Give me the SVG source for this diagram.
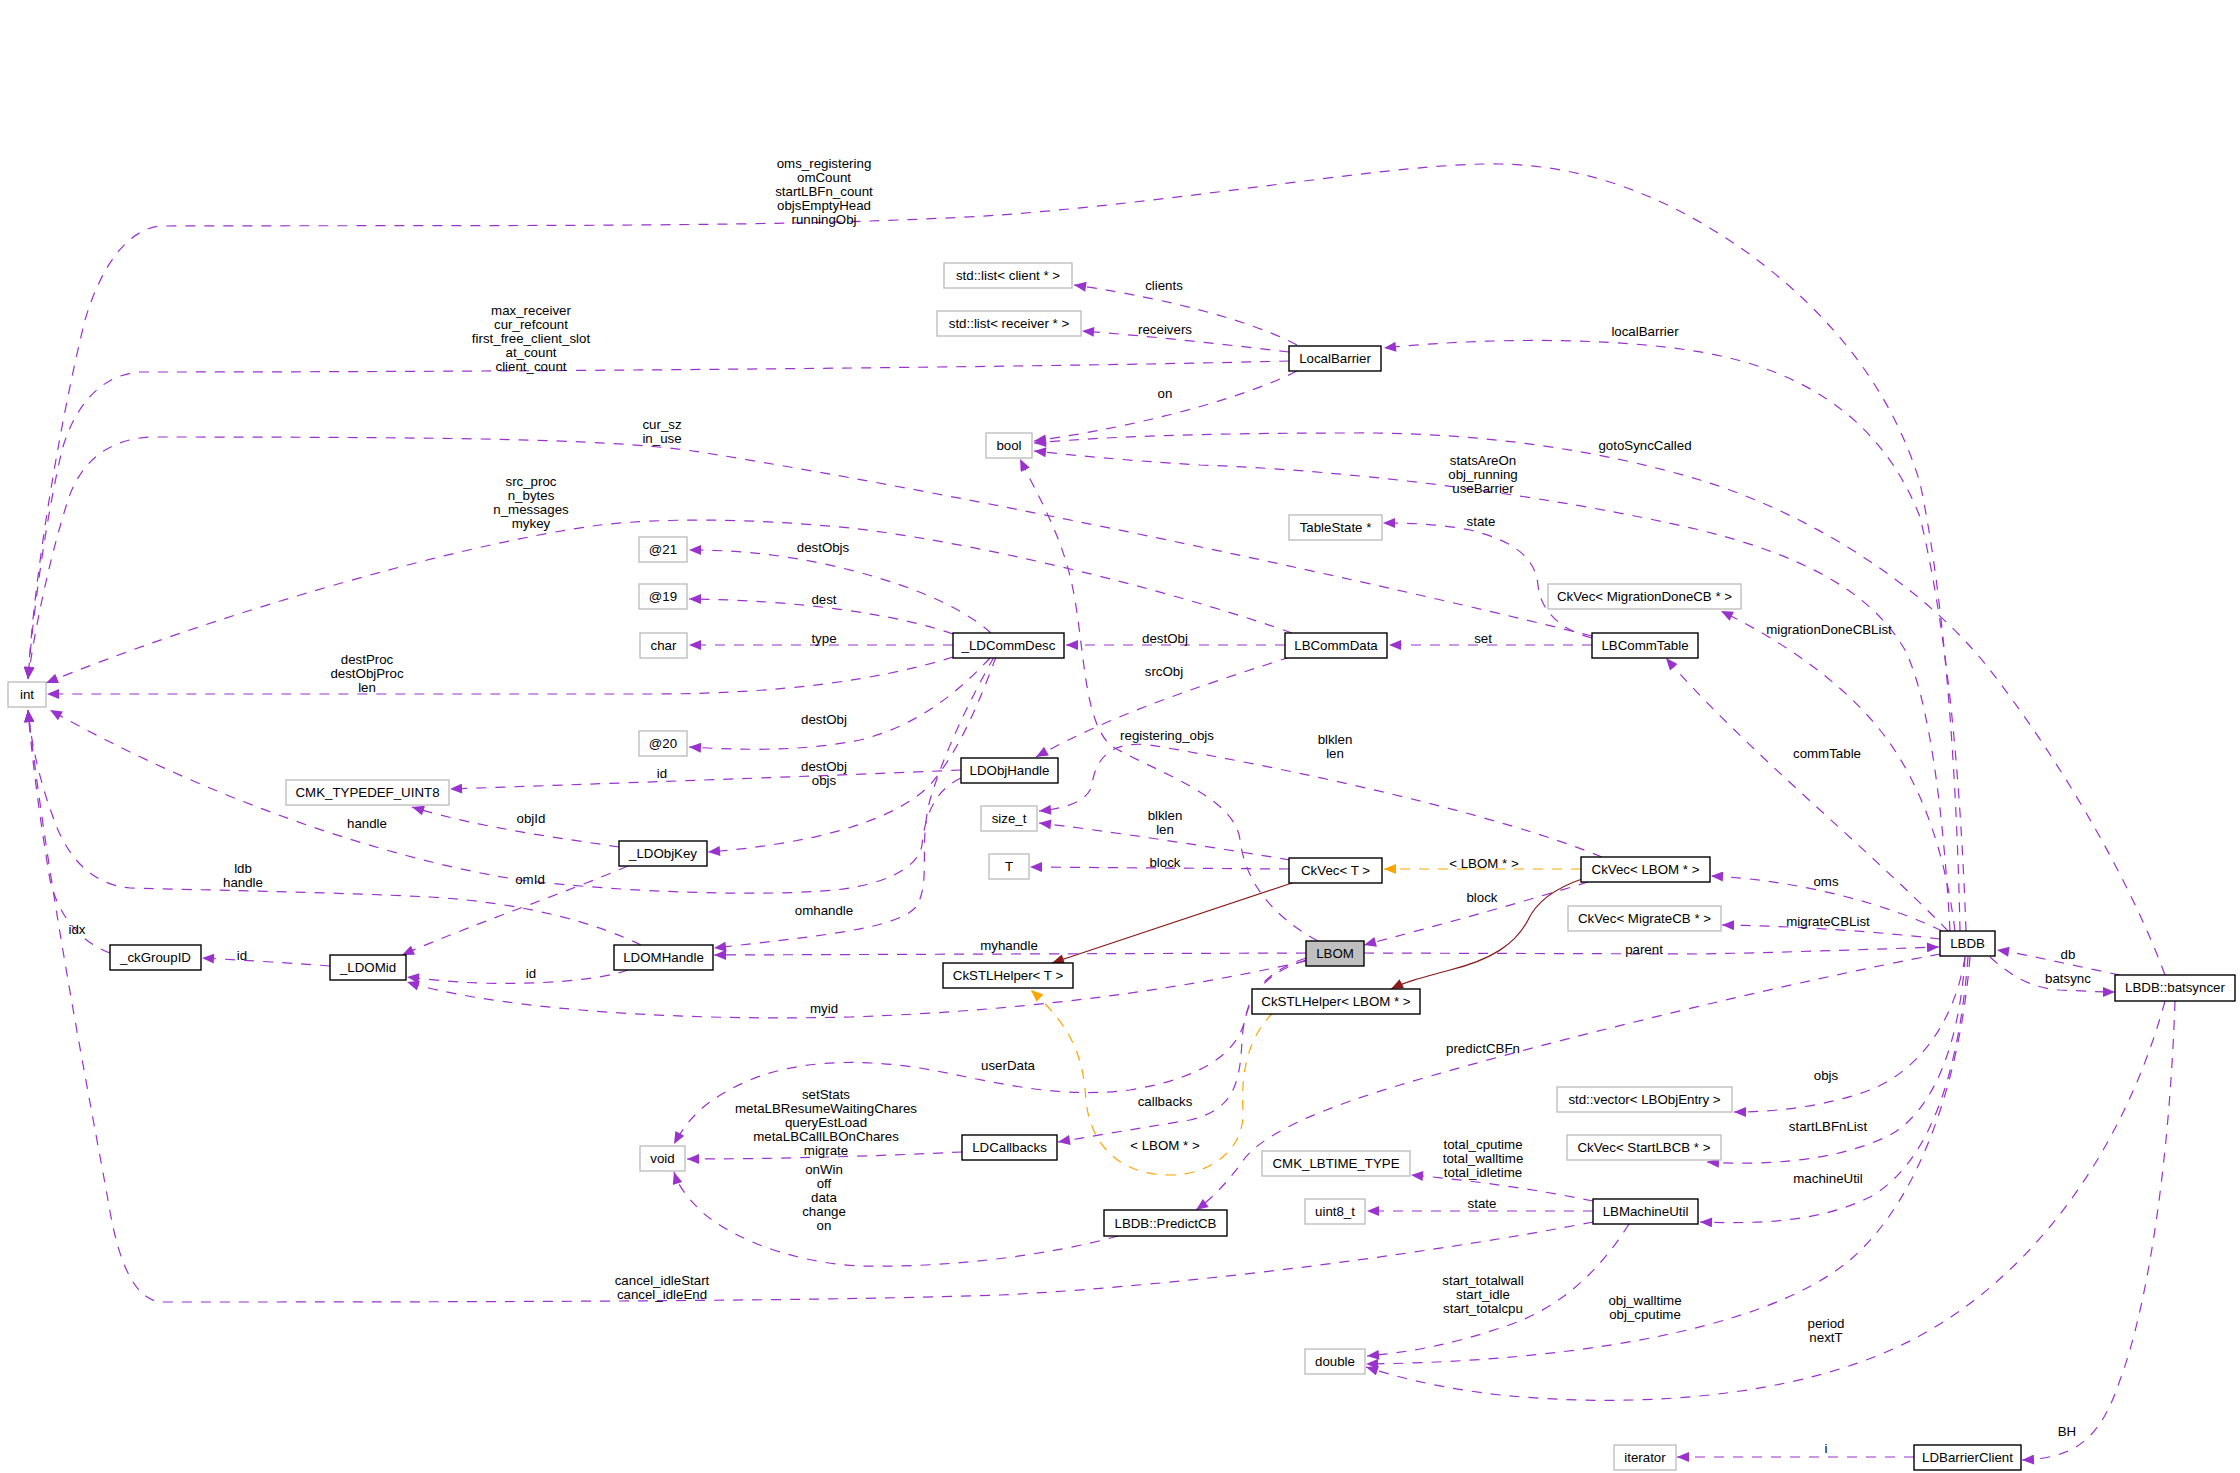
<svg xmlns="http://www.w3.org/2000/svg" width="2240" height="1473" viewBox="0 0 2240 1473">
<style>
text{font-family:"Liberation Sans",Arial,Helvetica,sans-serif;font-size:13.3px;text-anchor:middle;fill:#000}
.c rect{fill:#fff;stroke:#000;stroke-width:1.4}
.x rect{fill:#fff;stroke:#bfbfbf;stroke-width:1.4}
.g rect{fill:#bfbfbf;stroke:#000;stroke-width:1.4}
#edges path{fill:none;stroke-width:1.2}
.e{stroke:#9a32cd;stroke-dasharray:10,9;marker-end:url(#ap)}
.o{stroke:#ffa500;stroke-dasharray:10,9;marker-end:url(#ao)}
.r{stroke:#8b1a1a;marker-end:url(#ar)}
</style>
<defs>
<marker id="ap" markerUnits="userSpaceOnUse" markerWidth="13" markerHeight="10" viewBox="0 0 12 10" refX="12" refY="5" orient="auto"><path d="M0,0L12,5L0,10z" fill="#9a32cd"/></marker>
<marker id="ao" markerUnits="userSpaceOnUse" markerWidth="13" markerHeight="10" viewBox="0 0 12 10" refX="12" refY="5" orient="auto"><path d="M0,0L12,5L0,10z" fill="#ffa500"/></marker>
<marker id="ar" markerUnits="userSpaceOnUse" markerWidth="13" markerHeight="10" viewBox="0 0 12 10" refX="12" refY="5" orient="auto"><path d="M0,0L12,5L0,10z" fill="#8b1a1a"/></marker>
</defs>
<rect width="2240" height="1473" fill="#fff"/>
<g id="edges">
<path class="e" d="M1960,931 C1957,780 1945,600 1920,483 C1895,400 1840,320 1748,253 C1680,205 1600,166 1500,164 C1400,162 1200,200 1000,215 C800,228 500,225 160,226 C125,230 100,270 85,320 C65,400 35,560 28,679"/>
<path class="e" d="M1289,361 C1100,366 600,372 140,372 C95,375 72,415 62,450 C48,510 34,600 28,679"/>
<path class="e" d="M1592,636 C1400,588 1000,500 700,452 C620,440 500,437 150,437 C100,440 78,470 68,500 C52,550 36,620 28,679"/>
<path class="e" d="M1292,633 C1200,600 1000,545 850,528 C750,518 660,518 600,525 C450,545 200,620 46,683"/>
<path class="e" d="M953,657 C880,680 780,694 650,694 L47,694"/>
<path class="e" d="M961,778 C935,790 925,815 922,845 C918,870 880,885 835,890 C760,897 620,892 520,880 C380,858 200,795 50,710"/>
<path class="e" d="M641,945 C600,925 530,903 430,897 C330,892 200,890 130,888 C95,885 72,862 58,830 C42,790 32,750 28,710"/>
<path class="e" d="M110,953 C80,942 58,915 50,880 C40,820 32,760 28,710"/>
<path class="e" d="M1593,1222 C1450,1250 1200,1285 1000,1295 C800,1302 400,1302 160,1302 C130,1298 116,1250 108,1200 C90,1100 50,900 28,710"/>
<path class="e" d="M994,657 C970,700 945,750 930,800 C918,845 932,885 915,908 C895,928 830,935 714,948"/>
<path class="e" d="M1306,953 L714,955"/>
<path class="e" d="M1306,961 C1200,985 1050,1010 850,1017 C650,1022 480,1005 407,982"/>
<path class="e" d="M628,970 C600,980 540,985 478,983 C450,982 425,979 407,977"/>
<path class="e" d="M330,966 C290,963 240,960 202,958"/>
<path class="e" d="M628,866 C560,895 470,925 402,955"/>
<path class="e" d="M619,847 C560,838 480,828 412,807"/>
<path class="e" d="M961,770 C850,775 650,782 450,789"/>
<path class="e" d="M996,657 C980,700 960,750 930,785 C890,825 800,845 708,852"/>
<path class="e" d="M990,658 C960,690 920,725 860,740 C800,752 740,750 689,747"/>
<path class="e" d="M953,645 L689,645"/>
<path class="e" d="M953,634 C900,615 800,600 689,599"/>
<path class="e" d="M991,633 C960,605 900,580 820,563 C770,553 730,550 689,550"/>
<path class="e" d="M1285,645 L1066,645"/>
<path class="e" d="M1592,645 L1389,645"/>
<path class="e" d="M1592,638 C1560,630 1540,610 1538,585 C1535,555 1510,540 1470,530 C1440,524 1410,523 1383,523"/>
<path class="e" d="M1290,657 C1220,680 1120,710 1036,757"/>
<path class="e" d="M1297,345 C1260,325 1180,300 1074,285"/>
<path class="e" d="M1289,352 C1230,345 1150,336 1082,331"/>
<path class="e" d="M1297,371 C1250,395 1150,425 1034,441"/>
<path class="e" d="M1966,931 C1962,820 1952,650 1920,517 C1890,440 1830,380 1721,356 C1640,338 1500,336 1384,348"/>
<path class="e" d="M2165,975 C2130,880 2060,760 1990,670 C1920,580 1800,510 1700,480 C1600,450 1480,432 1350,433 C1200,433 1100,437 1034,443"/>
<path class="e" d="M1950,931 C1944,820 1930,700 1905,650 C1870,590 1800,555 1700,530 C1550,495 1350,470 1200,465 C1120,460 1070,455 1034,451"/>
<path class="e" d="M1948,931 C1870,850 1740,745 1666,658"/>
<path class="e" d="M1955,931 C1945,850 1920,780 1880,730 C1840,680 1780,640 1721,611"/>
<path class="e" d="M1942,931 C1890,905 1800,880 1711,876"/>
<path class="e" d="M1940,939 C1880,932 1800,926 1722,925"/>
<path class="e" d="M1364,953 L1700,954 C1800,952 1880,949 1939,947"/>
<path class="e" d="M2120,975 C2070,965 2030,955 1997,950"/>
<path class="e" d="M1990,957 C2010,975 2030,988 2060,990 C2085,991 2100,992 2115,992"/>
<path class="e" d="M1940,954 C1800,980 1550,1040 1400,1085 C1300,1115 1255,1140 1240,1165 C1225,1185 1210,1200 1196,1210"/>
<path class="e" d="M1965,957 C1955,1020 1920,1070 1870,1090 C1830,1105 1780,1112 1734,1112"/>
<path class="e" d="M1965,957 C1960,1040 1935,1110 1890,1135 C1840,1160 1770,1166 1707,1162"/>
<path class="e" d="M1968,957 C1960,1060 1935,1160 1870,1197 C1820,1222 1760,1224 1700,1222"/>
<path class="e" d="M1970,957 C1960,1080 1920,1200 1850,1260 C1760,1335 1550,1362 1366,1364"/>
<path class="e" d="M2165,1001 C2130,1130 2050,1260 1930,1330 C1820,1395 1650,1410 1500,1395 C1440,1388 1400,1378 1366,1367"/>
<path class="e" d="M2175,1001 C2170,1150 2150,1300 2120,1380 C2100,1440 2075,1458 2022,1460"/>
<path class="e" d="M1914,1457 L1677,1457"/>
<path class="e" d="M1593,1201 C1540,1190 1470,1180 1411,1175"/>
<path class="e" d="M1593,1211 L1367,1211"/>
<path class="e" d="M1629,1224 C1600,1270 1560,1310 1500,1328 C1450,1345 1410,1352 1367,1356"/>
<path class="e" d="M1318,941 C1270,915 1245,880 1240,840 C1235,795 1150,770 1110,745 C1085,720 1085,660 1075,600 C1065,540 1040,500 1020,459"/>
<path class="e" d="M1602,857 C1500,815 1300,770 1150,745 C1110,740 1095,760 1092,785 C1088,800 1070,808 1039,811"/>
<path class="e" d="M1290,860 C1200,845 1100,830 1039,823"/>
<path class="e" d="M1289,869 L1030,867"/>
<path class="e" d="M1588,882 C1530,900 1440,925 1364,945"/>
<path class="e" d="M1306,958 C1270,970 1250,990 1245,1020 C1235,1060 1190,1080 1130,1090 C1050,1100 980,1078 920,1068 C850,1057 790,1063 750,1080 C710,1097 690,1115 674,1144"/>
<path class="e" d="M1306,960 C1260,975 1245,1000 1242,1040 C1240,1090 1230,1110 1190,1120 C1140,1128 1100,1135 1058,1142"/>
<path class="e" d="M962,1152 C880,1156 780,1159 687,1159"/>
<path class="e" d="M1118,1236 C1050,1255 950,1268 860,1266 C780,1262 720,1230 700,1210 C685,1195 678,1185 674,1172"/>
<path class="o" d="M1581,869 L1384,869"/>
<path class="o" d="M1273,1013 C1255,1030 1240,1060 1243,1110 C1245,1150 1210,1175 1170,1175 C1120,1175 1090,1145 1086,1100 C1083,1060 1075,1030 1031,990"/>
<path class="r" d="M1295,882 L1052,963"/>
<path class="r" d="M1582,879 C1550,890 1535,905 1528,920 C1515,945 1490,960 1450,970 C1420,978 1405,982 1391,989"/>
</g>
<g id="edge-labels">
<text x="824" y="168">oms_registering<tspan x="824" dy="14">omCount</tspan><tspan x="824" dy="14">startLBFn_count</tspan><tspan x="824" dy="14">objsEmptyHead</tspan><tspan x="824" dy="14">runningObj</tspan></text>
<text x="531" y="315">max_receiver<tspan x="531" dy="14">cur_refcount</tspan><tspan x="531" dy="14">first_free_client_slot</tspan><tspan x="531" dy="14">at_count</tspan><tspan x="531" dy="14">client_count</tspan></text>
<text x="662" y="429">cur_sz<tspan x="662" dy="14">in_use</tspan></text>
<text x="531" y="486">src_proc<tspan x="531" dy="14">n_bytes</tspan><tspan x="531" dy="14">n_messages</tspan><tspan x="531" dy="14">mykey</tspan></text>
<text x="1164" y="290">clients</text>
<text x="1165" y="334">receivers</text>
<text x="1165" y="398">on</text>
<text x="1645" y="336">localBarrier</text>
<text x="1645" y="450">gotoSyncCalled</text>
<text x="1483" y="465">statsAreOn<tspan x="1483" dy="14">obj_running</tspan><tspan x="1483" dy="14">useBarrier</tspan></text>
<text x="1481" y="526">state</text>
<text x="1829" y="634">migrationDoneCBList</text>
<text x="1483" y="643">set</text>
<text x="1827" y="758">commTable</text>
<text x="823" y="552">destObjs</text>
<text x="824" y="604">dest</text>
<text x="824" y="643">type</text>
<text x="1165" y="643">destObj</text>
<text x="1164" y="676">srcObj</text>
<text x="367" y="664">destProc<tspan x="367" dy="14">destObjProc</tspan><tspan x="367" dy="14">len</tspan></text>
<text x="824" y="724">destObj</text>
<text x="824" y="771">destObj<tspan x="824" dy="14">objs</tspan></text>
<text x="662" y="778">id</text>
<text x="531" y="823">objId</text>
<text x="367" y="828">handle</text>
<text x="243" y="873">ldb<tspan x="243" dy="14">handle</tspan></text>
<text x="530" y="884">omId</text>
<text x="77" y="934">idx</text>
<text x="242" y="960">id</text>
<text x="531" y="978">id</text>
<text x="1167" y="740">registering_objs</text>
<text x="1335" y="744">blklen<tspan x="1335" dy="14">len</tspan></text>
<text x="1165" y="820">blklen<tspan x="1165" dy="14">len</tspan></text>
<text x="1165" y="867">block</text>
<text x="1484" y="868">&lt; LBOM * &gt;</text>
<text x="1482" y="902">block</text>
<text x="1826" y="886">oms</text>
<text x="1828" y="926">migrateCBList</text>
<text x="1644" y="954">parent</text>
<text x="2068" y="959">db</text>
<text x="2068" y="983">batsync</text>
<text x="1009" y="950">myhandle</text>
<text x="824" y="1013">myid</text>
<text x="824" y="915">omhandle</text>
<text x="1483" y="1053">predictCBFn</text>
<text x="1826" y="1080">objs</text>
<text x="1828" y="1131">startLBFnList</text>
<text x="1828" y="1183">machineUtil</text>
<text x="1008" y="1070">userData</text>
<text x="1165" y="1106">callbacks</text>
<text x="1165" y="1150">&lt; LBOM * &gt;</text>
<text x="826" y="1099">setStats<tspan x="826" dy="14">metaLBResumeWaitingChares</tspan><tspan x="826" dy="14">queryEstLoad</tspan><tspan x="826" dy="14">metaLBCallLBOnChares</tspan><tspan x="826" dy="14">migrate</tspan></text>
<text x="824" y="1174">onWin<tspan x="824" dy="14">off</tspan><tspan x="824" dy="14">data</tspan><tspan x="824" dy="14">change</tspan><tspan x="824" dy="14">on</tspan></text>
<text x="662" y="1285">cancel_idleStart<tspan x="662" dy="14">cancel_idleEnd</tspan></text>
<text x="1483" y="1149">total_cputime<tspan x="1483" dy="14">total_walltime</tspan><tspan x="1483" dy="14">total_idletime</tspan></text>
<text x="1482" y="1208">state</text>
<text x="1483" y="1285">start_totalwall<tspan x="1483" dy="14">start_idle</tspan><tspan x="1483" dy="14">start_totalcpu</tspan></text>
<text x="1645" y="1305">obj_walltime<tspan x="1645" dy="14">obj_cputime</tspan></text>
<text x="1826" y="1328">period<tspan x="1826" dy="14">nextT</tspan></text>
<text x="2067" y="1436">BH</text>
<text x="1826" y="1453">i</text>
</g>
<g id="n_int" class="x"><rect x="8" y="682" width="38" height="25"/><text x="27" y="699">int</text></g>
<g id="n_at21" class="x"><rect x="639" y="537" width="48" height="25"/><text x="663" y="554">@21</text></g>
<g id="n_at19" class="x"><rect x="639" y="584" width="48" height="25"/><text x="663" y="601">@19</text></g>
<g id="n_char" class="x"><rect x="640" y="633" width="47" height="25"/><text x="663.5" y="650">char</text></g>
<g id="n_at20" class="x"><rect x="639" y="731" width="48" height="25"/><text x="663" y="748">@20</text></g>
<g id="n_uint8def" class="x"><rect x="286" y="780" width="163" height="25"/><text x="367.5" y="797">CMK_TYPEDEF_UINT8</text></g>
<g id="n_LDObjKey" class="c"><rect x="619" y="841" width="88" height="25"/><text x="663" y="858">_LDObjKey</text></g>
<g id="n_ckGroupID" class="c"><rect x="110" y="945" width="91" height="25"/><text x="155.5" y="962">_ckGroupID</text></g>
<g id="n_LDOMid" class="c"><rect x="330" y="955" width="76" height="25"/><text x="368" y="972">_LDOMid</text></g>
<g id="n_LDOMHandle" class="c"><rect x="614" y="945" width="99" height="25"/><text x="663.5" y="962">LDOMHandle</text></g>
<g id="n_listclient" class="x"><rect x="944" y="263" width="128" height="25"/><text x="1008" y="280">std::list&lt; client * &gt;</text></g>
<g id="n_listreceiver" class="x"><rect x="937" y="311" width="144" height="25"/><text x="1009" y="328">std::list&lt; receiver * &gt;</text></g>
<g id="n_LocalBarrier" class="c"><rect x="1289" y="346" width="92" height="25"/><text x="1335" y="363">LocalBarrier</text></g>
<g id="n_bool" class="x"><rect x="986" y="433" width="46" height="25"/><text x="1009" y="450">bool</text></g>
<g id="n_TableState" class="x"><rect x="1289" y="515" width="93" height="25"/><text x="1335.5" y="532">TableState *</text></g>
<g id="n_CkVecMigDone" class="x"><rect x="1548" y="584" width="193" height="25"/><text x="1644.5" y="601">CkVec&lt; MigrationDoneCB * &gt;</text></g>
<g id="n_LBCommTable" class="c"><rect x="1592" y="633" width="106" height="25"/><text x="1645" y="650">LBCommTable</text></g>
<g id="n_LDCommDesc" class="c"><rect x="953" y="633" width="111" height="25"/><text x="1008.5" y="650">_LDCommDesc</text></g>
<g id="n_LBCommData" class="c"><rect x="1285" y="633" width="102" height="25"/><text x="1336" y="650">LBCommData</text></g>
<g id="n_LDObjHandle" class="c"><rect x="961" y="758" width="97" height="25"/><text x="1009.5" y="775">LDObjHandle</text></g>
<g id="n_size_t" class="x"><rect x="981" y="806" width="56" height="25"/><text x="1009" y="823">size_t</text></g>
<g id="n_T" class="x"><rect x="989" y="854" width="40" height="25"/><text x="1009" y="871">T</text></g>
<g id="n_CkVecT" class="c"><rect x="1289" y="858" width="93" height="25"/><text x="1335.5" y="875">CkVec&lt; T &gt;</text></g>
<g id="n_CkVecLBOM" class="c"><rect x="1581" y="857" width="129" height="25"/><text x="1645.5" y="874">CkVec&lt; LBOM * &gt;</text></g>
<g id="n_LBOM" class="g"><rect x="1306" y="941" width="58" height="25"/><text x="1335" y="958">LBOM</text></g>
<g id="n_CkSTLHelperT" class="c"><rect x="943" y="963" width="130" height="25"/><text x="1008" y="980">CkSTLHelper&lt; T &gt;</text></g>
<g id="n_CkSTLHelperLBOM" class="c"><rect x="1252" y="989" width="168" height="25"/><text x="1336" y="1006">CkSTLHelper&lt; LBOM * &gt;</text></g>
<g id="n_CkVecMigrate" class="x"><rect x="1568" y="906" width="153" height="25"/><text x="1644.5" y="923">CkVec&lt; MigrateCB * &gt;</text></g>
<g id="n_LBDB" class="c"><rect x="1940" y="931" width="55" height="25"/><text x="1967.5" y="948">LBDB</text></g>
<g id="n_batsyncer" class="c"><rect x="2115" y="975" width="120" height="26"/><text x="2175" y="992">LBDB::batsyncer</text></g>
<g id="n_vecLBObjEntry" class="x"><rect x="1557" y="1087" width="175" height="25"/><text x="1644.5" y="1104">std::vector&lt; LBObjEntry &gt;</text></g>
<g id="n_CkVecStartLB" class="x"><rect x="1567" y="1135" width="154" height="25"/><text x="1644" y="1152">CkVec&lt; StartLBCB * &gt;</text></g>
<g id="n_void" class="x"><rect x="640" y="1146" width="45" height="25"/><text x="662.5" y="1163">void</text></g>
<g id="n_LDCallbacks" class="c"><rect x="962" y="1135" width="95" height="25"/><text x="1009.5" y="1152">LDCallbacks</text></g>
<g id="n_PredictCB" class="c"><rect x="1104" y="1210" width="123" height="26"/><text x="1165.5" y="1228">LBDB::PredictCB</text></g>
<g id="n_LBTIME" class="x"><rect x="1262" y="1151" width="148" height="25"/><text x="1336" y="1168">CMK_LBTIME_TYPE</text></g>
<g id="n_uint8_t" class="x"><rect x="1305" y="1199" width="60" height="25"/><text x="1335" y="1216">uint8_t</text></g>
<g id="n_double" class="x"><rect x="1305" y="1349" width="60" height="25"/><text x="1335" y="1366">double</text></g>
<g id="n_LBMachineUtil" class="c"><rect x="1593" y="1199" width="105" height="25"/><text x="1645.5" y="1216">LBMachineUtil</text></g>
<g id="n_iterator" class="x"><rect x="1614" y="1445" width="62" height="25"/><text x="1645" y="1462">iterator</text></g>
<g id="n_LDBarrierClient" class="c"><rect x="1914" y="1445" width="107" height="25"/><text x="1967.5" y="1462">LDBarrierClient</text></g>
</svg>
